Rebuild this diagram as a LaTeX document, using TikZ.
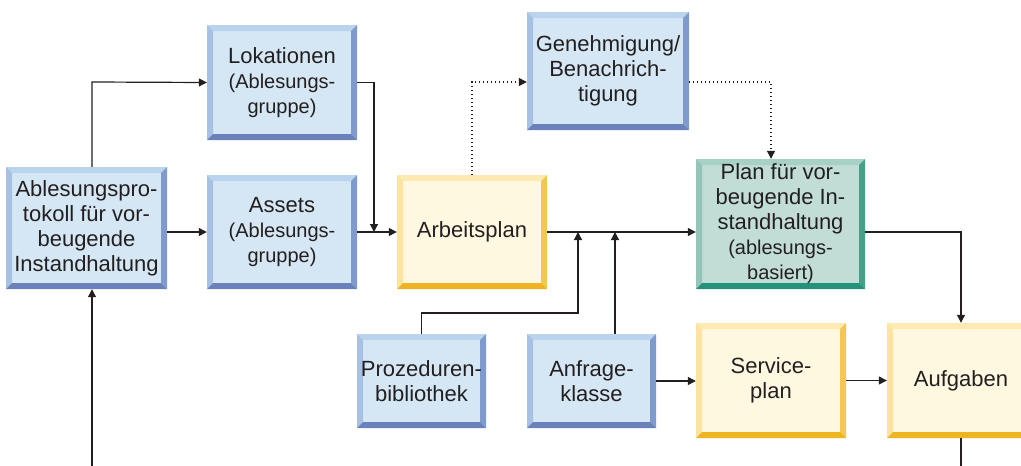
\documentclass[tikz,border=0pt]{standalone}
\usepackage{fontspec}
\setmainfont{Liberation Sans}
\usetikzlibrary{arrows.meta}

\definecolor{ink}{HTML}{231F20}
% blue panels
\definecolor{bf}{HTML}{D5E7F4}
\definecolor{bt}{HTML}{BBD4ED}
\definecolor{bl}{HTML}{A6C1E3}
\definecolor{br}{HTML}{7F9BCE}
\definecolor{bb}{HTML}{6A81BB}
% yellow panels
\definecolor{yf}{HTML}{FFF8E1}
\definecolor{yt}{HTML}{FDEAB2}
\definecolor{yl}{HTML}{FCE3A2}
\definecolor{yr}{HTML}{F4C65A}
\definecolor{yb}{HTML}{EFB422}
% green panel
\definecolor{gf}{HTML}{C1DDD6}
\definecolor{gt}{HTML}{A7D0C6}
\definecolor{gl}{HTML}{93C5B8}
\definecolor{gr}{HTML}{45A087}
\definecolor{gb}{HTML}{25937A}

\newcommand\mainsize{\fontsize{22}{25}\selectfont}
\newcommand\subsize{\fontsize{20}{23}\selectfont}

\tikzset{
  panel/.style n args={5}{fill=#1, path picture={
    \path (path picture bounding box.north west) coordinate (pnw)
          (path picture bounding box.north east) coordinate (pne)
          (path picture bounding box.south west) coordinate (psw)
          (path picture bounding box.south east) coordinate (pse)
          ([shift={(6pt,-6pt)}]path picture bounding box.north west) coordinate (qnw)
          ([shift={(-6pt,-6pt)}]path picture bounding box.north east) coordinate (qne)
          ([shift={(6pt,6pt)}]path picture bounding box.south west) coordinate (qsw)
          ([shift={(-6pt,6pt)}]path picture bounding box.south east) coordinate (qse);
    \fill[#2] (pnw) -- (pne) -- (qne) -- (qnw) -- cycle;
    \fill[#3] (pnw) -- (qnw) -- (qsw) -- (psw) -- cycle;
    \fill[#4] (pne) -- (pse) -- (qse) -- (qne) -- cycle;
    \fill[#5] (psw) -- (qsw) -- (qse) -- (pse) -- cycle;
  }},
  box/.style={inner sep=0pt, align=center, text=ink, font=\mainsize},
  bluebox/.style={box, panel={bf}{bt}{bl}{br}{bb}},
  yellowbox/.style={box, panel={yf}{yt}{yl}{yr}{yb}},
  greenbox/.style={box, panel={gf}{gt}{gl}{gr}{gb}},
  conn/.style={draw=ink, line width=1.2pt},
  arr/.style={conn, -{Triangle[length=8pt,width=8pt]}},
  dots/.style={dash pattern=on 1.2pt off 2.8pt},
}

\begin{document}
\begin{tikzpicture}[x=1pt, y=-1pt]
\useasboundingbox (0,0) rectangle (1021,466);

% panels
\node[bluebox, minimum width=161pt, minimum height=122pt] (abl) at (86.5,228)
  {Ablesungspro-\\tokoll für vor-\\beugende\\Instandhaltung};
\node[bluebox, minimum width=150pt, minimum height=115pt] (lok) at (282,82.5)
  {Lokationen\\\subsize (Ablesungs-\\\subsize gruppe)};
\node[bluebox, minimum width=150pt, minimum height=114pt] (ass) at (282,232)
  {Assets\\\subsize (Ablesungs-\\\subsize gruppe)};
\node[yellowbox, minimum width=150pt, minimum height=114pt] (arb) at (472,232)
  {Arbeitsplan};
\node[bluebox, minimum width=162pt, minimum height=118pt] (gen) at (608,71)
  {Genehmigung/\\Benachrich-\\tigung};
\node[greenbox, minimum width=169pt, minimum height=130pt] (plan) at (780.5,224)
  {Plan für vor-\\beugende In-\\standhaltung\\\subsize (ablesungs-\\\subsize basiert)};
\node[bluebox, minimum width=129pt, minimum height=94pt] (proz) at (421.5,381)
  {Prozeduren-\\bibliothek};
\node[bluebox, minimum width=129pt, minimum height=94pt] (anf) at (591.5,381)
  {Anfrage-\\klasse};
\node[yellowbox, minimum width=150pt, minimum height=115pt] (serv) at (771,380.5)
  {Service-\\plan};
\node[yellowbox, minimum width=148pt, minimum height=115pt] (auf) at (961,380.5)
  {Aufgaben};

% bend points and free ends
\coordinate (c1) at (92,82);
\coordinate (in) at (92,472);
\coordinate (c2) at (374,0);
\coordinate (c3) at (578,313);
\coordinate (c4) at (615,0);
\coordinate (c5) at (472,82);
\coordinate (c6) at (771,82);

% connectors
\draw[arr] (abl.north -| c1) -- (c1) -- (lok.west);
\draw[arr] (in) -- (abl.south -| in);
\draw[arr] (abl.east |- ass.west) -- (ass.west);
\draw[arr] (ass.east) -- (arb.west);
\draw[arr] (lok.east) -| (c2 |- arb.west);
\draw[arr] (arb.east) -- (plan.west |- arb.east);
\draw[arr] (proz.north) |- (c3) -- (c3 |- arb.east);
\draw[arr] (anf.north -| c4) -- (c4 |- arb.east);
\draw[arr] (anf.east) -- (serv.west |- anf.east);
\draw[arr] (serv.east) -- (auf.west);
\draw[arr] (plan.east |- arb.east) -| (auf.north);
\draw[conn] (auf.south) -- (auf.south |- in);
\draw[arr, dots] (arb.north) |- (gen.west |- c5);
\draw[arr, dots] (gen.east |- c6) -| (plan.north -| c6);
\end{tikzpicture}
\end{document}
